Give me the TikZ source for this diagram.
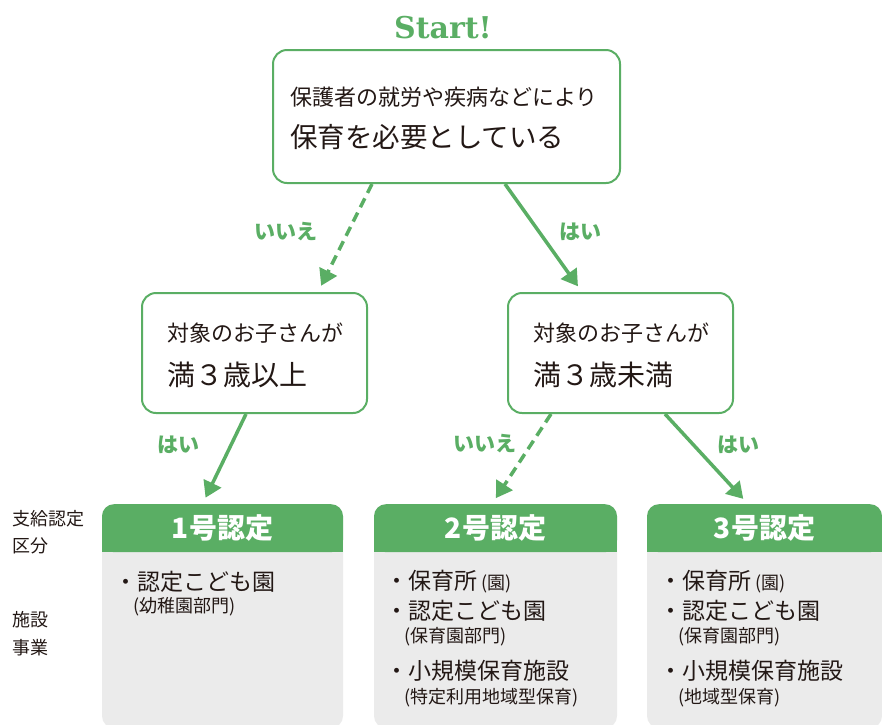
\documentclass[tikz,border=0pt]{standalone}
\usepackage{fontspec}
\setmainfont{Noto Sans CJK JP}
\newfontfamily\startfont{DejaVu Serif}
\usetikzlibrary{arrows.meta}
\definecolor{hgreen}{RGB}{90,174,100}
\definecolor{ink}{RGB}{35,24,21}
\definecolor{panel}{RGB}{235,235,235}
\newcommand\fsz[1]{\fontsize{#1}{#1}\selectfont}

\begin{document}
\begin{tikzpicture}[x=1pt,y=-1pt,
    qbox/.style={draw=hgreen, line width=2pt, rounded corners=14pt, fill=white},
    hdr/.style={fill=hgreen, rounded corners=12pt, text=white, font=\bfseries\fsz{28}, minimum height=48pt, anchor=north},
    txt/.style={text=ink, inner sep=0pt, anchor=west},
    lbl/.style={text=hgreen, inner sep=0pt, font=\bfseries\fsz{21}},
    yes/.style={hgreen, line width=3.5pt, -{Triangle[length=16pt,width=19pt]}, shorten >=7pt},
    no/.style={yes, dash pattern=on 10pt off 6pt}]
  \useasboundingbox (0,0) rectangle (882,724);

  % start and questions
  \node[text=hgreen, font=\startfont\bfseries\fsz{30}] (start) at (443,28) {Start!};
  \node[qbox, minimum width=347pt, minimum height=133pt] (q0) at (446.5,116.5) {};
  \node[txt, font=\fsz{22}] (q0a) at (290,97) {保護者の就労や疾病などにより};
  \node[txt, font=\fsz{27.5}] (q0b) at (290,137) {保育を必要としている};

  \node[qbox, minimum width=225pt, minimum height=120pt] (qa) at (254.5,353) {};
  \node[txt, font=\fsz{22}] (qa1) at (167,333) {対象のお子さんが};
  \node[txt, font=\fsz{28}] (qa2) at (167,375) {満３歳以上};

  \node[qbox, minimum width=225pt, minimum height=120pt] (qb) at (620.5,353) {};
  \node[txt, font=\fsz{22}] (qb1) at (533,333) {対象のお子さんが};
  \node[txt, font=\fsz{28}] (qb2) at (533,375) {満３歳未満};

  % side labels
  \node[txt, font=\fsz{18}, align=left, text depth=0pt] (kubun) at (12,531.5) {支給認定\\[9pt]区分};
  \node[txt, font=\fsz{18}, align=left] (shisetsu) at (12,634) {施設\\[10pt]事業};

  % result boxes
  \fill[panel, rounded corners=12pt] (102,504) rectangle (343,728);
  \fill[hgreen] (102,528) rectangle (343,552);
  \node[hdr, minimum width=241pt] (c1) at (222.5,504) {1号認定};

  \fill[panel, rounded corners=12pt] (374,504) rectangle (617,728);
  \fill[hgreen] (374,528) rectangle (617,552);
  \node[hdr, minimum width=243pt] (c2) at (495.5,504) {2号認定};

  \fill[panel, rounded corners=12pt] (647,504) rectangle (882,728);
  \fill[hgreen] (647,528) rectangle (882,552);
  \node[hdr, minimum width=235pt] (c3) at (764.5,504) {3号認定};

  \node[txt, font=\fsz{23}] (b1a) at (114,582) {・認定こども園};
  \node[txt, font=\fsz{18}] (b1b) at (133,607) {(幼稚園部門)};

  \node[txt, font=\fsz{23}] (b2a) at (385,582) {・保育所\,{\fsz{18}(園)}};
  \node[txt, font=\fsz{23}] (b2b) at (385,611) {・認定こども園};
  \node[txt, font=\fsz{18}] (b2c) at (404,637) {(保育園部門)};
  \node[txt, font=\fsz{23}] (b2d) at (385,671) {・小規模保育施設};
  \node[txt, font=\fsz{18}] (b2e) at (404,698) {(特定利用地域型保育)};

  \node[txt, font=\fsz{23}] (b3a) at (659,582) {・保育所\,{\fsz{18}(園)}};
  \node[txt, font=\fsz{23}] (b3b) at (659,611) {・認定こども園};
  \node[txt, font=\fsz{18}] (b3c) at (678,637) {(保育園部門)};
  \node[txt, font=\fsz{23}] (b3d) at (659,671) {・小規模保育施設};
  \node[txt, font=\fsz{18}] (b3e) at (678,698) {(地域型保育)};

  % arrows
  \draw[no] ([xshift=-74.5pt]q0.south) -- ([xshift=63.5pt]qa.north);
  \draw[yes] ([xshift=58.5pt]q0.south) -- ([xshift=-38.5pt]qb.north);
  \draw[yes] ([xshift=-8.5pt]qa.south) -- ([xshift=-20pt]c1.north);
  \draw[no] ([xshift=-69.5pt]qb.south) -- ([xshift=-3.5pt]c2.north);
  \draw[yes] ([xshift=44.5pt]qb.south) -- ([xshift=-16.5pt]c3.north);

  \node[lbl] (n1) at (286,232) {いいえ};
  \node[lbl] (y1) at (580,232) {はい};
  \node[lbl] (y2) at (178,445) {はい};
  \node[lbl] (n2) at (485,444) {いいえ};
  \node[lbl] (y3) at (738,445) {はい};
\end{tikzpicture}
\end{document}
